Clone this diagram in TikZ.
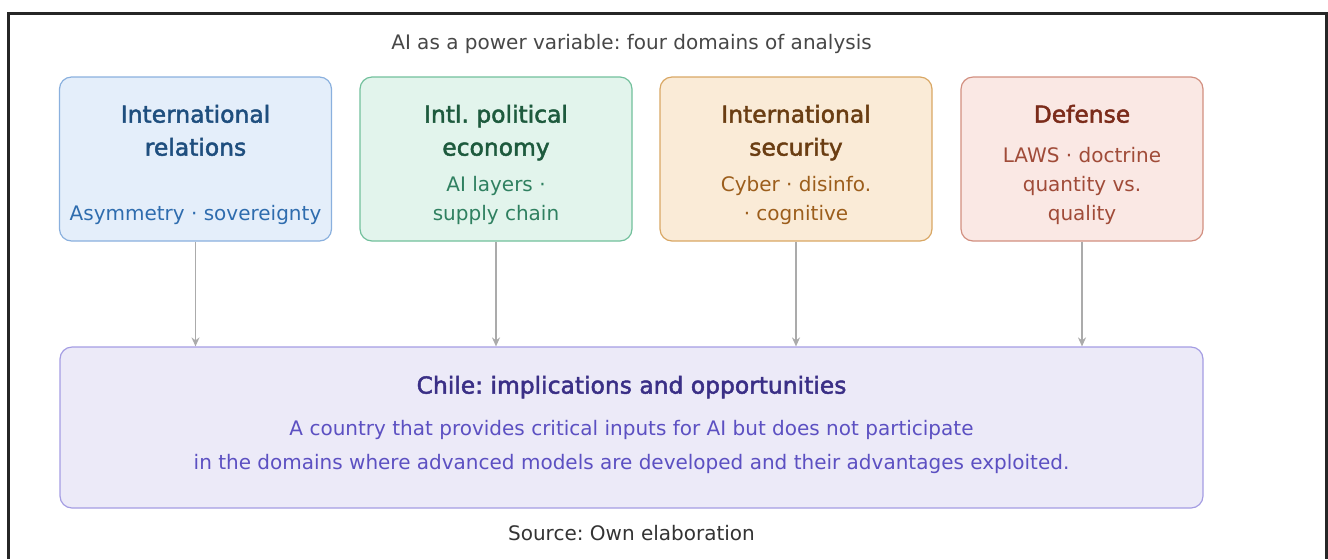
\documentclass[tikz,border=0pt]{standalone}
\usepackage{fontspec}
\setmainfont{DejaVu Sans}
\newfontfamily\headfont{DejaVu Sans}[FakeBold=2]
\usetikzlibrary{positioning,arrows.meta}
\frenchspacing

% box colours: fill, line, heading, text
\definecolor{irfill}{HTML}{E4EEFA}\definecolor{irline}{HTML}{8AB0DE}
\definecolor{irhead}{HTML}{1E4E7E}\definecolor{irtext}{HTML}{2E6CAE}
\definecolor{pefill}{HTML}{E2F4EC}\definecolor{peline}{HTML}{72C09C}
\definecolor{pehead}{HTML}{1D5A3D}\definecolor{petext}{HTML}{2F8060}
\definecolor{isfill}{HTML}{FAEBD7}\definecolor{isline}{HTML}{D9A764}
\definecolor{ishead}{HTML}{6A3D12}\definecolor{istext}{HTML}{9C5E1C}
\definecolor{dffill}{HTML}{FAE8E4}\definecolor{dfline}{HTML}{D28F80}
\definecolor{dfhead}{HTML}{7B2B1A}\definecolor{dftext}{HTML}{A04B38}
\definecolor{clfill}{HTML}{ECEAF8}\definecolor{clline}{HTML}{A49DE3}
\definecolor{clhead}{HTML}{3A2F86}\definecolor{cltext}{HTML}{5C50C2}

\begin{document}
\frenchspacing
\begin{tikzpicture}[x=0.5pt, y=-0.5pt,
    areabox/.style={draw, rounded corners=6pt, line width=0.6pt,
      minimum width=136pt, minimum height=82pt, inner sep=0pt},
    head/.style={font=\headfont\fontsize{11.7}{16.5}\selectfont,
      align=center, inner sep=0pt},
    note/.style={font=\fontsize{10}{14.5}\selectfont, align=center, inner sep=0pt},
    feed/.style={draw=black!33, line width=0.75pt,
      -{Stealth[length=4.5pt, width=4pt]}}]
  \useasboundingbox (0,0) rectangle (1328,559);

  % Outer frame, open at the bottom
  \draw[line width=1.5pt, black!85] (8,559) |- (1326,13) -- (1326,559);

  % Caption above the four domains
  \node[font=\fontsize{10}{12}\selectfont, text=black!72] (caption) at (631.5,44)
    {AI as a power variable: four domains of analysis};

  % The four domain boxes
  \node[areabox, draw=irline, fill=irfill] (ir) at (195.5,159) {};
  \node[head, text=irhead, below=14pt of ir.north] (irhd) {International\\relations};
  \node[note, text=irtext, above=8.5pt of ir.south] (irnt) {Asymmetry · sovereignty};

  \node[areabox, draw=peline, fill=pefill] (pe) at (496,159) {};
  \node[head, text=pehead, below=14pt of pe.north] (pehd) {Intl. political\\economy};
  \node[note, text=petext, above=8.5pt of pe.south] (pent) {AI layers ·\\supply chain};

  \node[areabox, draw=isline, fill=isfill] (is) at (796,159) {};
  \node[head, text=ishead, below=14pt of is.north] (ishd) {International\\security};
  \node[note, text=istext, above=8.5pt of is.south] (isnt) {Cyber · disinfo.\\· cognitive};

  \node[areabox, draw=dfline, fill=dffill, minimum width=121pt] (df) at (1082,159) {};
  \node[head, text=dfhead, below=14pt of df.north] (dfhd) {Defense};
  \node[note, text=dftext, above=8.5pt of df.south] (dfnt) {LAWS · doctrine\\quantity vs.\\quality};

  % Chile box
  \node[areabox, draw=clline, fill=clfill, minimum width=571.5pt,
    minimum height=80.5pt] (cl) at (631.5,427.5) {};
  \node[head, text=clhead, below=14.5pt of cl.north] (clhd)
    {Chile: implications and opportunities};
  \node[note, text=cltext, font=\fontsize{10}{17}\selectfont,
    above=17.5pt of cl.south] (clnt)
    {A country that provides critical inputs for AI but does not participate\\
     in the domains where advanced models are developed and their advantages exploited.};

  % Arrows down into the Chile box
  \foreach \d in {ir,pe,is,df}
    \draw[feed] (\d.south) -- (\d.south |- cl.north);

  \node[font=\fontsize{10}{12}\selectfont, text=black!80] (source) at (631.5,533)
    {Source: Own elaboration};
\end{tikzpicture}
\end{document}
